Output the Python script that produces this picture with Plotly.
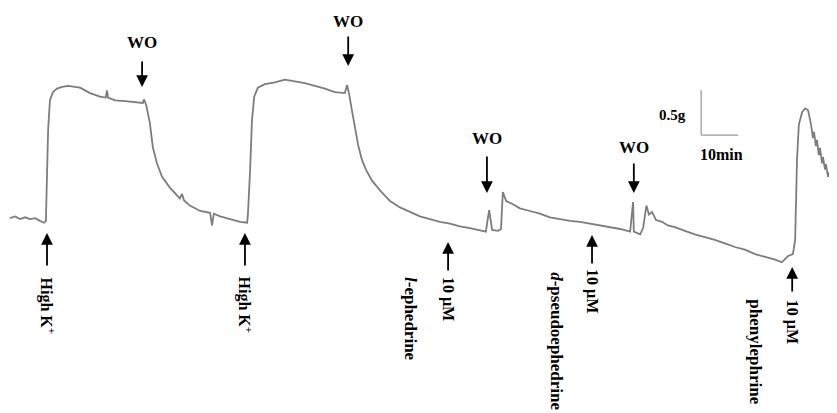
import plotly.graph_objects as go

# ---- Trace data: time (min) and tension (g) read from the recording ----
TIME_MIN = [
    0.0, 1.4, 2.7, 4.1, 5.4, 6.8, 8.1, 9.2, 9.7, 10.0, 10.3, 10.8, 11.6, 12.7, 14.1,
    15.7, 17.6, 18.9, 20.3, 21.6, 23.0, 24.3, 25.9, 26.2, 26.5, 28.4, 31.1, 33.8,
    35.9, 36.2, 36.8, 37.8, 38.6, 39.7, 41.1, 43.2, 44.6, 45.9, 46.5, 47.0, 48.6,
    51.4, 54.1, 54.6, 55.1, 56.8, 59.5, 62.2, 64.1,
    64.3, 64.9, 65.4, 66.0, 67.0, 68.9, 71.6, 74.3, 77.0, 79.7, 82.4, 85.1, 87.8,
    90.5, 91.1, 91.6, 92.4, 93.2, 94.1, 95.1, 96.2, 97.8, 100.0, 102.7, 105.4,
    108.1, 110.8, 113.5, 116.2, 118.9, 121.6, 124.3, 127.0, 128.6, 129.5, 130.3,
    131.9, 132.7, 133.2, 134.1, 135.7, 137.8, 140.5, 143.2, 145.9, 148.6, 151.4,
    154.1, 156.8, 159.5, 162.2, 164.9, 167.6, 168.4, 168.6, 170.3, 171.1, 172.0,
    172.7, 173.5, 174.6, 176.2, 177.8, 179.7, 182.4, 185.1, 187.8, 190.5, 193.2,
    195.9, 198.6, 201.4, 204.1, 206.8, 208.6, 210.3, 211.6, 212.2, 212.7, 213.2,
    214.1, 214.9, 215.7, 216.5, 217.0, 217.3, 217.8, 218.1, 218.6, 218.9, 219.5,
    219.7, 220.3, 220.5, 221.1, 221.4, 221.9, 222.2, 222.7, 223.0, 223.5,
]
TENSION_G = [
    0.02, 0.04, 0.01, 0.03, 0.01, 0.02, -0.01, -0.03, -0.01, 0.44, 1.00, 1.33, 1.42, 1.46, 1.48,
    1.49, 1.48, 1.47, 1.44, 1.41, 1.39, 1.37, 1.36, 1.44, 1.36, 1.33, 1.32, 1.31,
    1.30, 1.34, 1.28, 1.08, 0.81, 0.63, 0.48, 0.36, 0.30, 0.24, 0.29, 0.22, 0.16,
    0.10, 0.08, -0.06, 0.07, 0.04, 0.01, -0.02, -0.03,
    0.06, 0.56, 1.11, 1.37, 1.47, 1.51, 1.53, 1.56, 1.54, 1.52, 1.49, 1.46, 1.42,
    1.41, 1.50, 1.41, 1.22, 1.03, 0.83, 0.67, 0.56, 0.44, 0.33, 0.21, 0.14,
    0.09, 0.04, 0.01, -0.02, -0.04, -0.07, -0.09, -0.11, -0.13, 0.11, -0.11,
    -0.12, -0.10, 0.31, 0.21, 0.18, 0.13, 0.10, 0.07, 0.03, 0.01, -0.01,
    -0.02, -0.04, -0.06, -0.08, -0.10, -0.13, 0.20, -0.13, -0.16, -0.09, 0.16,
    0.06, 0.09, 0.00, -0.02, -0.06, -0.08, -0.12, -0.16, -0.19, -0.22, -0.26,
    -0.30, -0.33, -0.38, -0.41, -0.44, -0.47, -0.40, -0.38, -0.22, 0.67, 1.06,
    1.20, 1.24, 1.22, 1.06, 0.91, 0.98, 0.82, 0.89, 0.72, 0.80, 0.63,
    0.70, 0.56, 0.62, 0.48, 0.53, 0.41, 0.47, 0.33, 0.39, 0.28,
]

# ---- Event times (min) ----
HIGH_K_TIMES = [10.0, 63.5]
WO_TIMES = [35.7, 91.4, 128.9, 168.6]
DRUG_TIMES = [118.4, 157.3, 211.4]
DRUG_NAMES = ["<i>l</i>-ephedrine", "<i>d</i>-pseudoephedrine", "phenylephrine"]
DOSE_LABEL = "10 µM"

# Scale bar
SCALE_DT = 10      # min
SCALE_DG = 0.5     # g

FONT = "Liberation Serif"
ARROW = dict(showarrow=True, arrowhead=2, arrowsize=1.3, arrowwidth=1.8,
             arrowcolor="black", axref="pixel", ayref="pixel", text="")

fig = go.Figure()
fig.add_trace(go.Scatter(x=TIME_MIN, y=TENSION_G, mode="lines",
                         line=dict(color="#7d7d7d", width=1.8),
                         hoverinfo="skip", showlegend=False))

ann = []
# WO arrows (pointing down): tip g, tail offset px, text g
wo_tips = [1.478, 1.711, 0.30, 0.30]
wo_ay = [-27, -31, -38, -31]
wo_text_y = [1.967, 2.211, 0.911, 0.811]
for t, tip, ay, ty in zip(WO_TIMES, wo_tips, wo_ay, wo_text_y):
    ann.append(dict(x=t, y=tip, ax=0, ay=ay, **ARROW))
    ann.append(dict(x=t, y=ty, text="<b>WO</b>", showarrow=False,
                    font=dict(family=FONT, size=17, color="black"),
                    xanchor="center", yanchor="middle"))

# High K+ arrows (pointing up)
for t in HIGH_K_TIMES:
    ann.append(dict(x=t, y=-0.144, ax=0, ay=34, **ARROW))
    ann.append(dict(x=t, y=-0.611, text="<b>High K<sup>+</sup></b>", showarrow=False,
                    textangle=90, font=dict(family=FONT, size=16, color="black"),
                    xanchor="center", yanchor="top"))

# Drug arrows
drug_tips = [-0.244, -0.167, -0.522]
drug_ay = [30, 30, 26]
dose_y = [-0.611, -0.522, -0.867]
name_x = [108.1, 147.8, 201.4]
name_y = [-0.611, -0.556, -0.856]
for t, tip, ay, dy, nx, ny, name in zip(DRUG_TIMES, drug_tips, drug_ay, dose_y,
                                         name_x, name_y, DRUG_NAMES):
    ann.append(dict(x=t, y=tip, ax=0, ay=ay, **ARROW))
    ann.append(dict(x=t, y=dy, text="<b>" + DOSE_LABEL + "</b>", showarrow=False,
                    textangle=90, font=dict(family=FONT, size=16, color="black"),
                    xanchor="center", yanchor="top"))
    ann.append(dict(x=nx, y=ny, text="<b>" + name + "</b>", showarrow=False,
                    textangle=90, font=dict(family=FONT, size=17, color="black"),
                    xanchor="center", yanchor="top"))

# Scale bar
sx0, sy0 = 186.8, 0.944
fig.add_shape(type="line", x0=sx0, x1=sx0, y0=sy0, y1=sy0 + SCALE_DG,
              line=dict(color="#9a9a9a", width=1.2))
fig.add_shape(type="line", x0=sx0, x1=sx0 + SCALE_DT, y0=sy0, y1=sy0,
              line=dict(color="#9a9a9a", width=1.2))
ann.append(dict(x=sx0 - 3.5, y=sy0 + 0.22, text="<b>0.5g</b>", showarrow=False,
                font=dict(family=FONT, size=15, color="black"),
                xanchor="right", yanchor="middle"))
ann.append(dict(x=sx0 + SCALE_DT / 2 + 0.5, y=sy0 - 0.22, text="<b>10min</b>",
                showarrow=False, font=dict(family=FONT, size=16, color="black"),
                xanchor="center", yanchor="middle"))

# The page body adds an 8px margin, so the figure covers the window from 8px on.
fig.update_layout(
    width=829, height=405,
    margin=dict(l=0, r=0, t=0, b=0),
    paper_bgcolor="white", plot_bgcolor="white",
    xaxis=dict(range=[-0.5405, 223.51], visible=False, fixedrange=True),
    yaxis=dict(range=[-2.1444, 2.3556], visible=False, fixedrange=True),
    annotations=ann,
    showlegend=False,
)

fig.write_html("out.html")
